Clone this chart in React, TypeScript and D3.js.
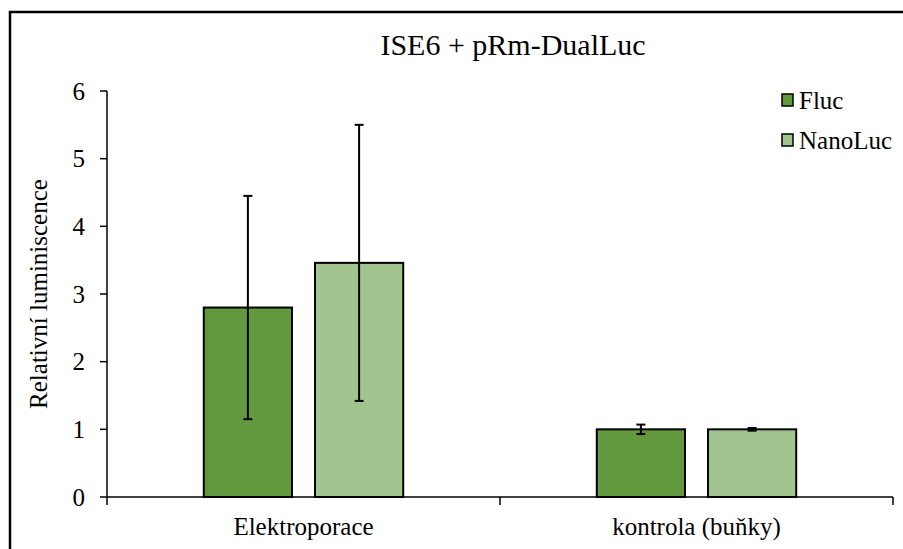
import React from "react";
import * as d3 from "d3";

// Category groups along the x axis
const categories = ["Elektroporace", "kontrola (buňky)"];
// Series shown as grouped bars
const series = ["Fluc", "NanoLuc"];
// Mean relative luminescence per series, per category
const flucValues = [2.8, 1.0];
const nanoLucValues = [3.46, 1.0];
// Standard deviation per series, per category
const flucErrors = [1.65, 0.07];
const nanoLucErrors = [2.04, 0.02];
// Y axis ticks
const yTicks = [0, 1, 2, 3, 4, 5, 6];

const colors: Record<string, string> = { Fluc: "#62993E", NanoLuc: "#A2C58F" };
const FONT = "Liberation Serif, Times New Roman, DejaVu Serif, serif";
const txt = { fontFamily: FONT };

export default function App() {
  const width = 903;
  const height = 549;
  const plot = { left: 107, right: 893, top: 91, bottom: 497 };

  const y = d3.scaleLinear().domain([0, 6]).range([plot.bottom, plot.top]);
  const x0 = d3.scaleBand().domain(categories).range([plot.left, plot.right]).padding(0);
  const x1 = d3
    .scaleBand()
    .domain(series)
    .range([0, x0.bandwidth()])
    .paddingInner(0.207)
    .paddingOuter(0.87);

  const valueMap: Record<string, number[]> = { Fluc: flucValues, NanoLuc: nanoLucValues };
  const errorMap: Record<string, number[]> = { Fluc: flucErrors, NanoLuc: nanoLucErrors };

  const boundaries = [plot.left, ...categories.map((c) => (x0(c) as number) + x0.bandwidth())];

  return (
    <svg
      width={width}
      height={height}
      style={{ position: "absolute", left: 0, top: 0, background: "#fff" }}
    >
      {/* chart frame */}
      <rect x={10} y={12} width={width + 20} height={height + 20} fill="#fff" stroke="#000" strokeWidth={2.5} />

      <text x={513} y={55} textAnchor="middle" fontSize={30} fill="#000" style={txt}>
        ISE6 + pRm-DualLuc
      </text>

      {/* y axis */}
      <line x1={plot.left} x2={plot.left} y1={plot.top} y2={plot.bottom} stroke="#000" strokeWidth={1.5} />
      {yTicks.map((t) => (
        <g key={t}>
          <line x1={plot.left - 7} x2={plot.left} y1={y(t)} y2={y(t)} stroke="#000" strokeWidth={1.5} />
          <text x={plot.left - 22} y={y(t)} dy="0.35em" textAnchor="end" fontSize={25} fill="#000" style={txt}>
            {t}
          </text>
        </g>
      ))}
      <text
        transform={`translate(47, ${(plot.top + plot.bottom) / 2}) rotate(-90)`}
        textAnchor="middle"
        fontSize={25}
        fill="#000"
        style={txt}
      >
        Relativní luminiscence
      </text>

      {/* bars */}
      {categories.map((c, ci) => (
        <g key={c} transform={`translate(${x0(c)},0)`}>
          {series.map((s) => {
            const v = valueMap[s][ci];
            const e = errorMap[s][ci];
            const bx = x1(s) as number;
            const cx = bx + x1.bandwidth() / 2;
            return (
              <g key={s}>
                <rect
                  x={bx}
                  y={y(v)}
                  width={x1.bandwidth()}
                  height={y(0) - y(v)}
                  fill={colors[s]}
                  stroke="#000"
                  strokeWidth={2}
                />
                <line x1={cx} x2={cx} y1={y(v + e)} y2={y(v - e)} stroke="#000" strokeWidth={2} />
                <line x1={cx - 4.5} x2={cx + 4.5} y1={y(v + e)} y2={y(v + e)} stroke="#000" strokeWidth={2} />
                <line x1={cx - 4.5} x2={cx + 4.5} y1={y(v - e)} y2={y(v - e)} stroke="#000" strokeWidth={2} />
              </g>
            );
          })}
          <text x={x0.bandwidth() / 2} y={535} textAnchor="middle" fontSize={25} fill="#000" style={txt}>
            {c}
          </text>
        </g>
      ))}

      {/* x axis */}
      <line x1={plot.left} x2={plot.right} y1={plot.bottom} y2={plot.bottom} stroke="#000" strokeWidth={1.5} />
      {boundaries.map((bx, i) => (
        <line key={i} x1={bx} x2={bx} y1={plot.bottom} y2={plot.bottom + 8} stroke="#000" strokeWidth={1.5} />
      ))}

      {/* legend */}
      {series.map((s, i) => (
        <g key={s} transform={`translate(782, ${100 + i * 40})`}>
          <rect x={0} y={-6} width={11} height={12} fill={colors[s]} stroke="#000" strokeWidth={1.5} />
          <text x={17} y={0} dy="0.35em" fontSize={25} fill="#000" style={txt}>
            {s}
          </text>
        </g>
      ))}
    </svg>
  );
}
